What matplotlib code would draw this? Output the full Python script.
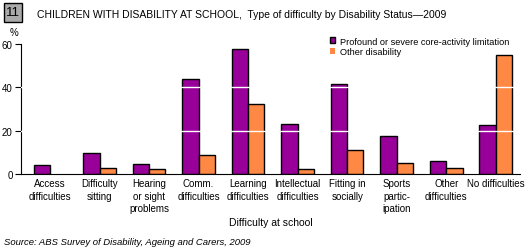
import matplotlib.pyplot as plt
import numpy as np
from matplotlib.patches import Rectangle

plt.rcParams['font.family'] = ['Liberation Sans', 'DejaVu Sans']

# data
categories = ['Access\ndifficulties', 'Difficulty\nsitting', 'Hearing\nor sight\nproblems',
              'Comm.\ndifficulties', 'Learning\ndifficulties', 'Intellectual\ndifficulties',
              'Fitting in\nsocially', 'Sports\npartic-\nipation', 'Other\ndifficulties',
              'No difficulties']
profound = [4.2, 9.6, 4.5, 43.8, 57.7, 23.0, 41.5, 17.5, 5.9, 22.5]
other = [0.0, 2.6, 2.2, 8.6, 32.3, 2.2, 11.0, 5.0, 2.6, 54.9]
yticks = [0, 20, 40, 60]

purple = '#990099'
orange = '#ff8844'

fig = plt.figure(figsize=(5.29, 2.53), dpi=100)
ax = fig.add_axes([21 / 529, 1 - 175 / 253, 499 / 529, 130 / 253])

x = np.arange(len(categories))
w = 0.33
ax.bar(x - w / 2, profound, w, color=purple, edgecolor='black',
       linewidth=[1 if v > 0 else 0 for v in profound], zorder=2,
       label='Profound or severe core-activity limitation')
ax.bar(x + w / 2, other, w, color=orange, edgecolor='black',
       linewidth=[1 if v > 0 else 0 for v in other], zorder=2,
       label='Other disability')

# white grid lines drawn over the bars
for v in [20, 40]:
    ax.axhline(v, color='white', linewidth=1, zorder=3)

ax.set_xlim(-0.585, 9.49)
ax.set_ylim(0, 60)
ax.set_yticks(yticks)
ax.tick_params(axis='y', direction='out', length=4, width=0.8, labelsize=7, pad=2)
ax.set_xticks(x)
ax.set_xticklabels(categories, fontsize=7, linespacing=1.3)
ax.tick_params(axis='x', length=0, pad=3)
for s in ['top', 'right']:
    ax.spines[s].set_visible(False)
ax.spines['left'].set_linewidth(0.8)
ax.spines['bottom'].set_linewidth(0.8)
ax.set_xlabel('Difficulty at school', fontsize=7.5, labelpad=3)

ax.legend(loc='upper left', bbox_to_anchor=(325 / 529, 1 - 33 / 253),
          bbox_transform=fig.transFigure, fontsize=6.6, frameon=False,
          handlelength=0.6, handleheight=0.6, handletextpad=0.5,
          labelspacing=0.2, borderpad=0)

# title number box
fig.patches.append(Rectangle((4 / 529, 1 - 23 / 253), 18 / 529, 19 / 253,
                             transform=fig.transFigure, facecolor='#aaaaaa',
                             edgecolor='black', linewidth=1))
fig.text(13 / 529, 1 - 13.5 / 253, '11', fontsize=9.5, ha='center', va='center')
fig.text(37 / 529, 1 - 15 / 253,
         'CHILDREN WITH DISABILITY AT SCHOOL,  Type of difficulty by Disability Status\u20142009',
         fontsize=7.5, ha='left', va='center')
fig.text(14 / 529, 1 - 33 / 253, '%', fontsize=7, ha='center', va='center')
fig.text(4 / 529, 1 - 243 / 253, 'Source: ABS Survey of Disability, Ageing and Carers, 2009',
         fontsize=6.8, style='italic', ha='left', va='center')

fig.savefig('out.png', dpi=100)
